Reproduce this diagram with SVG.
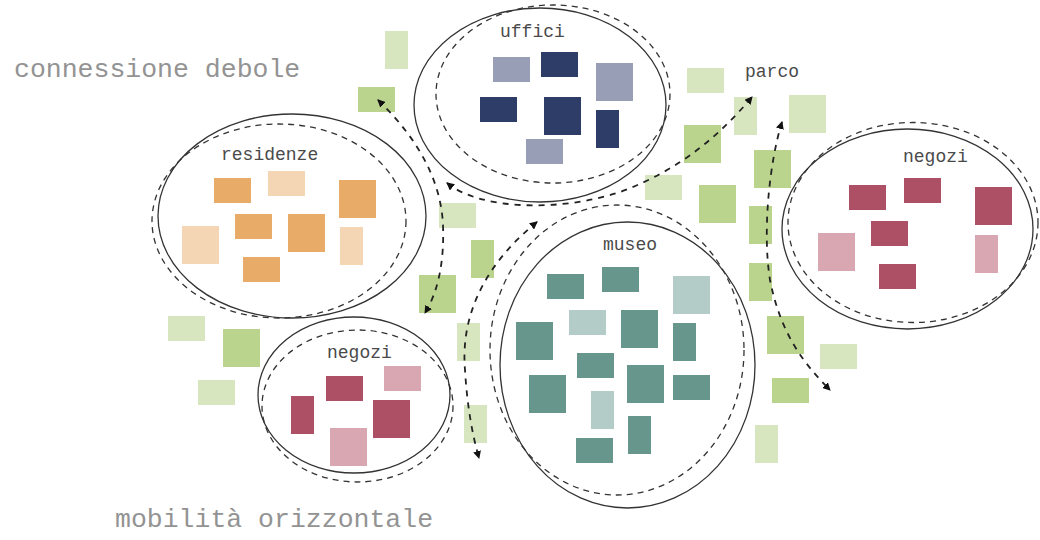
<svg xmlns="http://www.w3.org/2000/svg" width="1040" height="540" viewBox="0 0 1040 540">
<style>
.lbl{font-family:"Liberation Mono","Courier New",monospace;font-size:18px;fill:#4a4a4a}
.big{font-family:"Liberation Mono","Courier New",monospace;font-size:26.5px;fill:#939393}
.ring{fill:none;stroke:#333;stroke-width:1.3}
.dring{fill:none;stroke:#333;stroke-width:1.3;stroke-dasharray:6 5}
.conn{fill:none;stroke:#222;stroke-width:1.8;stroke-dasharray:6 6}
.gl{fill:#d8e6c0}
.gm{fill:#bad48e}
.ud{fill:#2e3d68}.ul{fill:#979eb5}
.rd{fill:#e8ab68}.rl{fill:#f4d5b4}
.md{fill:#66968c}.ml{fill:#b3ccc7}
.nd{fill:#ad5066}.nl{fill:#d8a7b2}
</style>
<defs>
<marker id="ah" viewBox="0 0 8 8" refX="7" refY="4" markerWidth="8" markerHeight="8" markerUnits="userSpaceOnUse" orient="auto-start-reverse">
<path d="M0,0 L8,4 L0,8 z" fill="#111"/>
</marker>
</defs>
<rect width="1040" height="540" fill="#fff"/>

<g id="labels">
<text class="big" x="14" y="77">connessione debole</text>
<text class="big" x="115" y="527">mobilità orizzontale</text>
</g>

<g id="parco">
<text class="lbl" x="745" y="77">parco</text>
<rect class="gl" x="385" y="31" width="23" height="38"/>
<rect class="gm" x="358" y="87" width="37" height="25"/>
<rect class="gl" x="439" y="203" width="37" height="25"/>
<rect class="gm" x="471" y="240" width="23" height="38"/>
<rect class="gm" x="419" y="275" width="37" height="38"/>
<rect class="gl" x="457" y="323" width="23" height="38"/>
<rect class="gl" x="464" y="405" width="23" height="38"/>
<rect class="gl" x="168" y="316" width="37" height="25"/>
<rect class="gm" x="223" y="329" width="37" height="38"/>
<rect class="gl" x="198" y="380" width="37" height="25"/>
<rect class="gl" x="687" y="68" width="37" height="25"/>
<rect class="gl" x="734" y="97" width="23" height="38"/>
<rect class="gl" x="789" y="95" width="37" height="38"/>
<rect class="gm" x="684" y="125" width="37" height="38"/>
<rect class="gm" x="754" y="150" width="37" height="38"/>
<rect class="gl" x="645" y="175" width="37" height="25"/>
<rect class="gm" x="699" y="185" width="37" height="38"/>
<rect class="gm" x="749" y="206" width="23" height="38"/>
<rect class="gm" x="749" y="263" width="23" height="38"/>
<rect class="gm" x="767" y="316" width="37" height="38"/>
<rect class="gl" x="820" y="344" width="37" height="25"/>
<rect class="gm" x="772" y="378" width="37" height="25"/>
<rect class="gl" x="755" y="425" width="23" height="38"/>
</g>

<g id="uffici">
<ellipse class="ring" cx="540" cy="105" rx="126" ry="97"/>
<ellipse class="dring" cx="553" cy="94" rx="117" ry="89"/>
<text class="lbl" x="500" y="37">uffici</text>
<rect class="ul" x="493" y="57" width="37" height="25"/>
<rect class="ud" x="541" y="52" width="37" height="25"/>
<rect class="ul" x="596" y="63" width="37" height="38"/>
<rect class="ud" x="480" y="97" width="37" height="25"/>
<rect class="ud" x="544" y="97" width="37" height="38"/>
<rect class="ud" x="596" y="110" width="23" height="38"/>
<rect class="ul" x="526" y="139" width="37" height="25"/>
</g>

<g id="residenze">
<ellipse class="ring" cx="292" cy="216" rx="134" ry="102"/>
<ellipse class="dring" cx="279" cy="221" rx="127" ry="97"/>
<text class="lbl" x="221" y="160">residenze</text>
<rect class="rd" x="214" y="178" width="37" height="25"/>
<rect class="rl" x="268" y="171" width="37" height="25"/>
<rect class="rd" x="339" y="180" width="37" height="38"/>
<rect class="rd" x="235" y="214" width="37" height="25"/>
<rect class="rd" x="288" y="214" width="37" height="38"/>
<rect class="rl" x="182" y="226" width="37" height="38"/>
<rect class="rl" x="340" y="227" width="23" height="38"/>
<rect class="rd" x="243" y="257" width="37" height="25"/>
</g>

<g id="museo">
<ellipse class="ring" cx="627.5" cy="365" rx="127.5" ry="143"/>
<ellipse class="dring" cx="617" cy="350" rx="127" ry="145"/>
<text class="lbl" x="603" y="250">museo</text>
<rect class="md" x="547" y="274" width="37" height="25"/>
<rect class="md" x="602" y="267" width="37" height="25"/>
<rect class="ml" x="673" y="276" width="37" height="38"/>
<rect class="ml" x="569" y="310" width="37" height="25"/>
<rect class="md" x="621" y="310" width="37" height="38"/>
<rect class="md" x="673" y="323" width="23" height="38"/>
<rect class="md" x="516" y="322" width="37" height="38"/>
<rect class="md" x="577" y="353" width="37" height="25"/>
<rect class="md" x="627" y="365" width="37" height="38"/>
<rect class="md" x="673" y="375" width="37" height="25"/>
<rect class="md" x="529" y="375" width="37" height="38"/>
<rect class="ml" x="591" y="391" width="23" height="38"/>
<rect class="md" x="628" y="416" width="23" height="38"/>
<rect class="md" x="576" y="438" width="37" height="25"/>
</g>

<g id="negozi-destra">
<ellipse class="ring" cx="907.5" cy="229" rx="125.5" ry="100"/>
<ellipse class="dring" cx="913" cy="222.5" rx="125" ry="100"/>
<text class="lbl" x="903" y="162">negozi</text>
<rect class="nd" x="849" y="185" width="37" height="25"/>
<rect class="nd" x="904" y="178" width="37" height="25"/>
<rect class="nd" x="975" y="187" width="37" height="38"/>
<rect class="nd" x="871" y="221" width="37" height="25"/>
<rect class="nl" x="818" y="233" width="37" height="38"/>
<rect class="nl" x="975" y="235" width="23" height="38"/>
<rect class="nd" x="879" y="264" width="37" height="25"/>
</g>

<g id="negozi-sinistra">
<ellipse class="ring" cx="354" cy="395" rx="96" ry="78"/>
<ellipse class="dring" cx="357.5" cy="406" rx="95.5" ry="76"/>
<text class="lbl" x="327" y="358">negozi</text>
<rect class="nd" x="326" y="376" width="37" height="25"/>
<rect class="nl" x="384" y="366" width="37" height="25"/>
<rect class="nd" x="291" y="396" width="23" height="38"/>
<rect class="nd" x="373" y="400" width="37" height="38"/>
<rect class="nl" x="330" y="428" width="37" height="38"/>
</g>

<g id="connectors">
<path class="conn" d="M378,100 Q440,160 443,225 Q445,280 425,313" marker-start="url(#ah)" marker-end="url(#ah)"/>
<path class="conn" d="M447,183 C480,210 560,212 620,192 C680,170 720,135 752,97" marker-start="url(#ah)" marker-end="url(#ah)"/>
<path class="conn" d="M537,222 C490,260 460,310 465,370 Q468,420 479,458" marker-start="url(#ah)" marker-end="url(#ah)"/>
<path class="conn" d="M782,122 C770,160 762,230 770,280 C780,330 800,360 830,390" marker-start="url(#ah)" marker-end="url(#ah)"/>
</g>
</svg>
